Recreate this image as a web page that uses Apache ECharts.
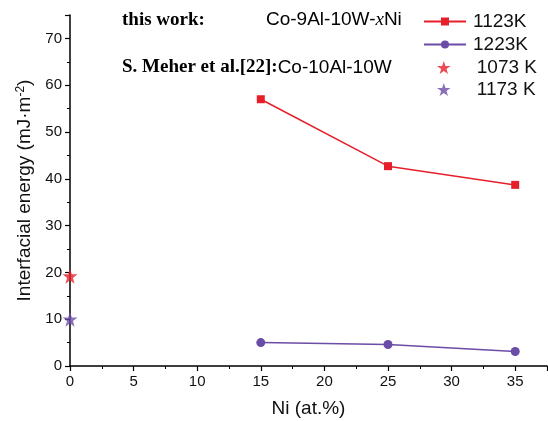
<!DOCTYPE html>
<html>
<head>
<meta charset="utf-8">
<script src="https://cdn.jsdelivr.net/npm/echarts@6/dist/echarts.min.js"></script>
<style>
  html, body { margin: 0; padding: 0; background: #fff; }
  #chart { width: 548px; height: 421px; }
</style>
</head>
<body>
<div id="chart"></div>
<script>
// Ni content (at.%) of this work
const niContent = [15, 25, 35]
// interfacial energy, this work
const energy1123 = [57.0, 42.7, 38.7]
const energy1223 = [5.0, 4.6, 3.1]
// S. Meher et al. reference points (Ni = 0)
const meher1073 = [[0, 19.2]]
const meher1173 = [[0, 10.0]]

const red = '#e5202b'
const purple = '#6b4ca6'
const fontColor = '#111'
const sans = 'Arial, Liberation Sans'
const serif = 'Liberation Serif, Times New Roman'
const star = 'path://M50,0 L61.8,35.1 L98.1,35.1 L68.8,56.9 L79.4,91.9 L50,70.6 L20.6,91.9 L31.2,56.9 L1.9,35.1 L38.2,35.1 Z'

const chart = echarts.init(document.getElementById('chart'))

const axisCommon = {
  axisLine: { show: true, lineStyle: { color: '#000', width: 1.5 } },
  axisTick: { show: true, inside: false, length: 5, lineStyle: { color: '#000', width: 1.2 } },
  minorTick: { show: true, splitNumber: 2, length: 3, lineStyle: { color: '#000', width: 1 } },
  splitLine: { show: false },
  axisLabel: { color: fontColor, fontSize: 15, fontFamily: sans, margin: 8 }
}

const legendCommon = {
  orient: 'vertical',
  padding: 0
}

chart.setOption({
  animation: false,
  grid: { left: 70, right: 1, top: 15, bottom: 55, containLabel: false, outerBoundsMode: 'none' },
  xAxis: {
    type: 'value',
    min: 0,
    max: 37.5,
    interval: 5,
    ...axisCommon,
    axisLabel: {
      ...axisCommon.axisLabel,
      showMaxLabel: false,
      formatter: (v) => (v % 5 === 0 && v <= 35 ? v : '')
    },
    name: 'Ni (at.%)',
    nameLocation: 'middle',
    nameGap: 33,
    nameTextStyle: { color: fontColor, fontSize: 19, fontFamily: sans }
  },
  yAxis: {
    type: 'value',
    min: 0,
    max: 75,
    interval: 10,
    ...axisCommon,
    axisLabel: {
      ...axisCommon.axisLabel,
      formatter: (v) => (v % 10 === 0 && v <= 70 ? v : '')
    },
    name: '{t|Interfacial energy (mJ·m}{s|-2}{t|)}',
    nameLocation: 'middle',
    nameGap: 34,
    nameRotate: 90,
    nameTextStyle: {
      rich: {
        t: { color: fontColor, fontSize: 19, fontFamily: sans },
        s: { color: fontColor, fontSize: 12, fontFamily: sans, verticalAlign: 'top', padding: [0, 0, 9, 0] }
      }
    }
  },
  legend: [
    {
      ...legendCommon,
      left: 423,
      top: 12,
      itemGap: 4,
      itemWidth: 42,
      itemHeight: 10,
      textStyle: { color: fontColor, fontSize: 19, fontFamily: sans, padding: [0, 0, 0, 2] },
      data: ['1123K', '1223K']
    },
    {
      ...legendCommon,
      left: 437,
      top: 58,
      itemGap: 3,
      itemWidth: 44,
      itemHeight: 13,
      textStyle: { color: fontColor, fontSize: 19, fontFamily: sans, padding: [0, 0, 0, 6] },
      data: ['1073 K', '1173 K']
    }
  ],
  graphic: [
    {
      type: 'text', left: 122, top: 11,
      style: { text: 'this work:', fontSize: 19, fontWeight: 'bold', fontFamily: serif, fill: '#000' }
    },
    {
      type: 'text', left: 266, top: 10,
      style: {
        text: '{a|Co-9Al-10W-}{b|x}{a|Ni}',
        rich: {
          a: { fontSize: 19, fontFamily: sans, fill: '#000' },
          b: { fontSize: 19, fontStyle: 'italic', fontFamily: serif, fill: '#000' }
        }
      }
    },
    {
      type: 'text', left: 122, top: 58,
      style: {
        text: '{b|S. Meher et al.[22]:}{a|Co-10Al-10W}',
        rich: {
          a: { fontSize: 19, fontFamily: sans, fill: '#000' },
          b: { fontSize: 19, fontWeight: 'bold', fontFamily: serif, fill: '#000' }
        }
      }
    }
  ],
  series: [
    {
      name: '1123K',
      type: 'line',
      data: niContent.map((x, i) => [x, energy1123[i]]),
      color: red,
      symbol: 'rect',
      symbolSize: 8,
      lineStyle: { width: 1.5 }
    },
    {
      name: '1223K',
      type: 'line',
      data: niContent.map((x, i) => [x, energy1223[i]]),
      color: purple,
      symbol: 'circle',
      symbolSize: 9,
      lineStyle: { width: 1.5 }
    },
    {
      name: '1073 K',
      type: 'scatter',
      data: meher1073,
      color: red,
      symbol: star,
      symbolSize: 15,
      clip: false
    },
    {
      name: '1173 K',
      type: 'scatter',
      data: meher1173,
      color: purple,
      symbol: star,
      symbolSize: 15,
      clip: false
    }
  ]
})
</script>
</body>
</html>
